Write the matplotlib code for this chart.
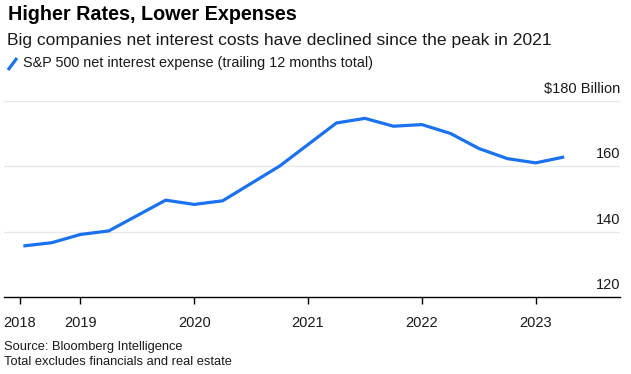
import matplotlib
matplotlib.use("Agg")
import matplotlib.pyplot as plt
from matplotlib.lines import Line2D
import matplotlib.transforms as mtransforms

plt.rcParams['font.family'] = ['Liberation Sans', 'DejaVu Sans']

# Data: quarter-end dates as decimal years, S&P 500 net interest expense ($bn, TTM)
quarters = [2018.5, 2018.75, 2019.0, 2019.25, 2019.75, 2020.0, 2020.25, 2020.75,
            2021.25, 2021.5, 2021.75, 2022.0, 2022.25, 2022.5, 2022.75, 2023.0, 2023.25]
expense = [135.6, 136.6, 139.1, 140.2, 149.6, 148.3, 149.4, 160.0,
           173.2, 174.6, 172.2, 172.7, 170.0, 165.4, 162.3, 161.0, 162.8]

year_ticks = [2018.47, 2019, 2020, 2021, 2022, 2023]
year_labels = ['2018', '2019', '2020', '2021', '2022', '2023']
y_ticks = [120, 140, 160, 180]
y_labels = ['120', '140', '160', '$180 Billion']

W, H = 631, 374
fig = plt.figure(figsize=(W / 100, H / 100), dpi=100)

left, right, bottom, top = 4, 620, 297, 100.7
ax = fig.add_axes([left / W, 1 - bottom / H, (right - left) / W, (bottom - top) / H])

blue = '#1a72ee'
ax.plot(quarters, expense, color=blue, lw=2.3, solid_capstyle='butt', solid_joinstyle='round', zorder=3)

ax.set_xlim(2018.33, 2023.74)
ax.set_ylim(120, 180)

for s in ['left', 'right', 'top']:
    ax.spines[s].set_visible(False)
ax.spines['bottom'].set_color('black')
ax.spines['bottom'].set_linewidth(1.0)

ax.set_yticks([])
for v in y_ticks[1:]:
    ax.axhline(v, color='#e8e8e8', lw=1.0, zorder=1)

trans = mtransforms.blended_transform_factory(ax.transAxes, ax.transData)
for v, lab in zip(y_ticks, y_labels):
    ax.annotate(lab, xy=(1.0, v), xycoords=trans, xytext=(0, 5.5), textcoords='offset points',
                ha='right', va='baseline', fontsize=10.5, color='#1a1a1a', annotation_clip=False)

ax.set_xticks(year_ticks)
ax.set_xticklabels(year_labels, fontsize=10.5, color='#1a1a1a')
ax.tick_params(axis='x', length=5, width=1, color='black', pad=9, direction='out')

# Titles
fig.text(8 / W, 1 - 15 / H, 'Higher Rates, Lower Expenses', fontsize=14.2, fontweight='bold',
         ha='left', va='center', color='black')
fig.text(7 / W, 1 - 40 / H, 'Big companies net interest costs have declined since the peak in 2021',
         fontsize=12.6, ha='left', va='center', color='#1a1a1a')
fig.add_artist(Line2D([8 / W, 17 / W], [1 - 70 / H, 1 - 58 / H], color=blue, lw=2.3,
                      solid_capstyle='butt', transform=fig.transFigure))
fig.text(23 / W, 1 - 63 / H, 'S&P 500 net interest expense (trailing 12 months total)',
         fontsize=10.4, ha='left', va='center', color='#1a1a1a')

# Footer
fig.text(4 / W, 1 - 347 / H, 'Source: Bloomberg Intelligence', fontsize=9.3,
         ha='left', va='center', color='#1a1a1a')
fig.text(4 / W, 1 - 362 / H, 'Total excludes financials and real estate', fontsize=9.3,
         ha='left', va='center', color='#1a1a1a')

fig.savefig('out.png', dpi=100)
